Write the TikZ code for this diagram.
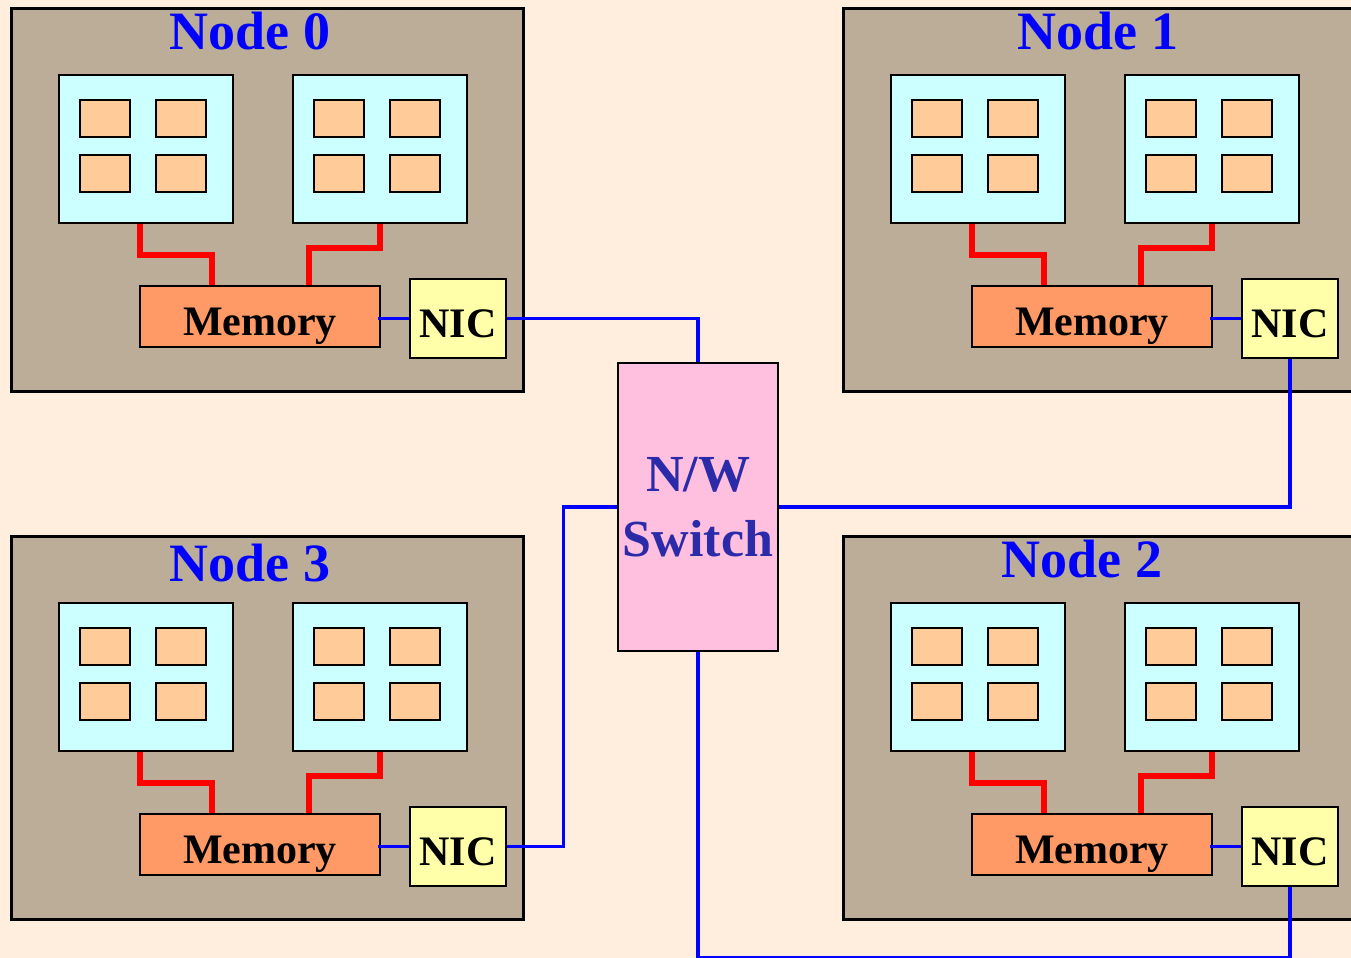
\documentclass[tikz,border=0pt]{standalone}
\usepackage{fontspec}
\setmainfont{Liberation Serif}
\definecolor{bgc}{HTML}{FFEEDD}
\definecolor{boxc}{HTML}{BBAD97}
\definecolor{sockc}{HTML}{CCFFFF}
\definecolor{corec}{HTML}{FFCC99}
\definecolor{memc}{HTML}{FF9966}
\definecolor{nicc}{HTML}{FFFFAA}
\definecolor{swc}{HTML}{FFBFDF}
\definecolor{swtext}{HTML}{2B2BAA}
\tikzset{
  base/.style={draw=black, line width=1.3pt, inner sep=0pt, rectangle},
  nodebox/.style={base, fill=boxc, anchor=north west, minimum width=256pt, minimum height=191.5pt},
  sockbox/.style={base, fill=sockc, minimum width=87pt, minimum height=74pt},
  corebox/.style={base, fill=corec, minimum width=25pt, minimum height=18.5pt},
  membox/.style={base, fill=memc, minimum width=120pt, minimum height=30.5pt, text height=19pt, text depth=0pt, font=\fontsize{21}{25}\selectfont\bfseries},
  nicbox/.style={base, fill=nicc, minimum width=48pt, minimum height=39.5pt, text height=19pt, text depth=0pt, font=\fontsize{21}{25}\selectfont\bfseries},
  swbox/.style={base, fill=swc, minimum width=80pt, minimum height=144pt, align=center, text=swtext, font=\fontsize{26}{32.5}\selectfont\bfseries},
  titletext/.style={text=blue, inner sep=0pt, font=\fontsize{27}{30}\selectfont\bfseries},
  redline/.style={draw=red, line width=3pt},
  blueline/.style={draw=blue, line width=1.6pt},
}
\newcommand{\compnode}[6]{%
  \begin{scope}[shift={(#2,#3)}]
    \node[nodebox] (#1box) at (10,7) {};
    \node[titletext] (#1title) at (#5,#6) {#4};
    \node[sockbox] (#1sa) at (146,149) {};
    \node[sockbox] (#1sb) at (380,149) {};
    \node[corebox] (#1ca) at (105,118.5) {};
    \node[corebox] (#1cb) at (181,118.5) {};
    \node[corebox] (#1cc) at (105,173.5) {};
    \node[corebox] (#1cd) at (181,173.5) {};
    \node[corebox] (#1ce) at (339,118.5) {};
    \node[corebox] (#1cf) at (415,118.5) {};
    \node[corebox] (#1cg) at (339,173.5) {};
    \node[corebox] (#1ch) at (415,173.5) {};
    \node[membox] (#1mem) at (260,316.5) {Memory};
    \node[nicbox] (#1nic) at (458,318.5) {NIC};
    \draw[redline] ([xshift=-3pt]#1sa.south) -- ++(0,31) -| ([xshift=-24pt]#1mem.north);
    \draw[redline] (#1sb.south) -- ++(0,24) -| ([xshift=24.5pt]#1mem.north);
    \draw[blueline] ([xshift=-1.5pt]#1nic.west -| #1mem.east) -- (#1nic.west);
  \end{scope}}
\begin{document}
\begin{tikzpicture}[x=0.5pt,y=-0.5pt]
\fill[bgc] (0,0) rectangle (1351,958);
\useasboundingbox (0,0) rectangle (1351,958);
\clip (0,0) rectangle (1351,958);
\compnode{nA}{0}{0}{Node 0}{250}{31}
\compnode{nB}{832}{0}{Node 1}{266}{31}
\compnode{nD}{0}{528}{Node 3}{250}{35}
\compnode{nC}{832}{528}{Node 2}{250}{31}
\node[swbox] (sw) at (698,507) {N/W\\Switch};
\draw[blueline] (nAnic.east) -| (sw.north);
\draw[blueline] (nBnic.south) |- (sw.east);
\draw[blueline] (nDnic.east) -- ++(56,0) |- (sw.west);
\draw[blueline] (sw.south) -- ++(0,305) -| (nCnic.south);
\end{tikzpicture}
\end{document}
